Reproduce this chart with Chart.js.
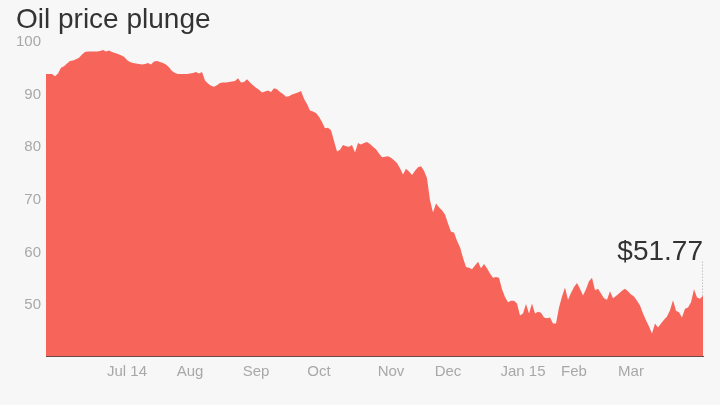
<!DOCTYPE html>
<html>
<head>
<meta charset="utf-8">
<script src="https://cdn.jsdelivr.net/npm/chart.js@4"></script>
<style>
  html, body { margin: 0; padding: 0; background: #f7f7f7; }
  canvas { display: block; }
</style>
</head>
<body>
<canvas id="oilChart" width="720" height="405"></canvas>
<script>
// oil price, one value per trading day (late May 2014 - end of Mar 2015)
const prices = [
  93.9, 93.9, 93.9, 93.5, 94.0, 95.1, 95.4, 95.9, 96.4, 96.5,
  96.7, 97.0, 97.6, 98.1, 98.2, 98.2, 98.2, 98.2, 98.3, 98.5,
  98.2, 98.4, 98.1, 97.9, 97.7, 97.5, 97.2, 96.6, 96.2, 96.0,
  95.9, 95.8, 95.7, 95.8, 96.0, 95.7, 96.3, 96.4, 96.2, 96.0,
  95.7, 95.2, 94.5, 94.1, 93.9, 93.9, 93.9, 93.9, 94.0, 94.1,
  94.3, 94.0, 94.3, 92.7, 92.1, 91.7, 91.5, 91.8, 92.2, 92.3,
  92.3, 92.4, 92.5, 92.6, 93.1, 92.3, 92.4, 92.9, 92.3, 91.8,
  91.3, 90.9, 90.4, 90.6, 90.8, 90.5, 91.2, 91.0, 90.5, 90.1,
  89.6, 89.7, 90.0, 90.2, 90.4, 90.7, 89.2, 88.2, 87.0, 86.8,
  86.5, 85.8, 84.8, 83.6, 83.7, 83.2, 81.2, 79.2, 79.5, 80.4,
  80.2, 80.1, 80.4, 79.0, 80.8, 80.5, 80.8, 81.0, 80.6, 80.1,
  79.6, 78.8, 78.1, 78.2, 78.3, 78.0, 77.5, 77.0, 76.0, 74.8,
  75.9, 75.4, 74.7, 75.5, 76.2, 76.4, 75.5, 74.1, 69.9, 67.6,
  69.3, 68.6, 68.0, 67.2, 65.5, 63.9, 63.8, 62.2, 61.0, 59.0,
  57.2, 57.1, 56.8, 57.5, 58.2, 57.0, 57.8, 57.0, 56.0, 55.2,
  55.3, 55.2, 53.0, 51.5, 50.5, 50.8, 50.8, 50.3, 48.0, 48.4,
  50.2, 48.4, 50.3, 48.4, 48.7, 48.5, 47.6, 47.5, 47.6, 46.5,
  46.5, 49.5, 51.6, 53.3, 51.0, 52.3, 53.4, 54.2, 53.1, 51.8,
  53.0, 54.5, 55.2, 52.8, 53.1, 52.2, 51.3, 51.0, 52.6, 51.3,
  51.7, 52.2, 52.7, 53.1, 52.6, 52.0, 51.6, 50.8, 49.9, 48.4,
  47.1, 45.9, 44.6, 46.5, 45.7, 46.5, 47.2, 47.8, 49.0, 50.9,
  48.9, 48.6, 47.6, 49.3, 49.5, 50.5, 53.0, 51.4, 51.2, 51.77
];

// first trading day of each month (index into prices) and its label
const monthIdx = [27, 48, 70, 91, 115, 134, 159, 176, 195];
const monthLabels = ['Jul 14', 'Aug', 'Sep', 'Oct', 'Nov', 'Dec', 'Jan 15', 'Feb', 'Mar'];

const yTicks = [50, 60, 70, 80, 90, 100];

const chartTitle = 'Oil price plunge';

const decorPlugin = {
  id: 'decor',
  afterDatasetsDraw(chart) {
    const ctx = chart.ctx;
    const meta = chart.getDatasetMeta(0);
    const last = meta.data[meta.data.length - 1];
    const lastPrice = prices[prices.length - 1];

    ctx.save();
    // title
    ctx.fillStyle = '#333';
    ctx.font = '300 28px "Liberation Sans", Arial, sans-serif';
    ctx.textAlign = 'left';
    ctx.textBaseline = 'alphabetic';
    ctx.fillText(chartTitle, 16, 28);

    // last price callout
    ctx.strokeStyle = '#aaa';
    ctx.lineWidth = 1;
    ctx.setLineDash([1, 2]);
    ctx.beginPath();
    ctx.moveTo(last.x - 0.5, last.y);
    ctx.lineTo(last.x - 0.5, last.y - 34);
    ctx.stroke();
    ctx.setLineDash([]);

    ctx.font = '28px "Liberation Sans", Arial, sans-serif';
    ctx.textAlign = 'right';
    ctx.fillText('$' + lastPrice.toFixed(2), last.x, last.y - 36);
    ctx.restore();
  }
};

new Chart(document.getElementById('oilChart'), {
  type: 'line',
  data: {
    datasets: [{
      data: prices.map((p, i) => ({ x: i, y: p })),
      backgroundColor: '#f7645a',
      borderWidth: 0,
      pointRadius: 0,
      fill: 'start',
      tension: 0
    }]
  },
  options: {
    responsive: false,
    animation: false,
    layout: { padding: { top: 42, right: 17, left: 0, bottom: 0 } },
    plugins: {
      legend: { display: false },
      tooltip: { enabled: false }
    },
    scales: {
      x: {
        type: 'linear',
        min: 0,
        max: prices.length - 1,
        afterBuildTicks: (scale) => { scale.ticks = monthIdx.map(v => ({ value: v })); },
        afterFit: (scale) => { scale.height = 49; },
        grid: { display: false, drawTicks: false },
        border: { display: true, color: '#6e4a46', width: 1 },
        ticks: {
          autoSkip: false,
          maxRotation: 0,
          padding: 7,
          color: '#a8a8a8',
          font: { family: '"Liberation Sans", Arial, sans-serif', size: 15 },
          callback: (v) => monthLabels[monthIdx.indexOf(v)]
        }
      },
      y: {
        min: 40.3,
        max: 100,
        afterBuildTicks: (scale) => { scale.ticks = yTicks.map(v => ({ value: v })); },
        afterFit: (scale) => { scale.width = 46; },
        grid: { display: false, drawTicks: false },
        border: { display: false },
        ticks: {
          padding: 5,
          color: '#a8a8a8',
          font: { family: '"Liberation Sans", Arial, sans-serif', size: 15 }
        }
      }
    }
  },
  plugins: [decorPlugin]
});
</script>
</body>
</html>
